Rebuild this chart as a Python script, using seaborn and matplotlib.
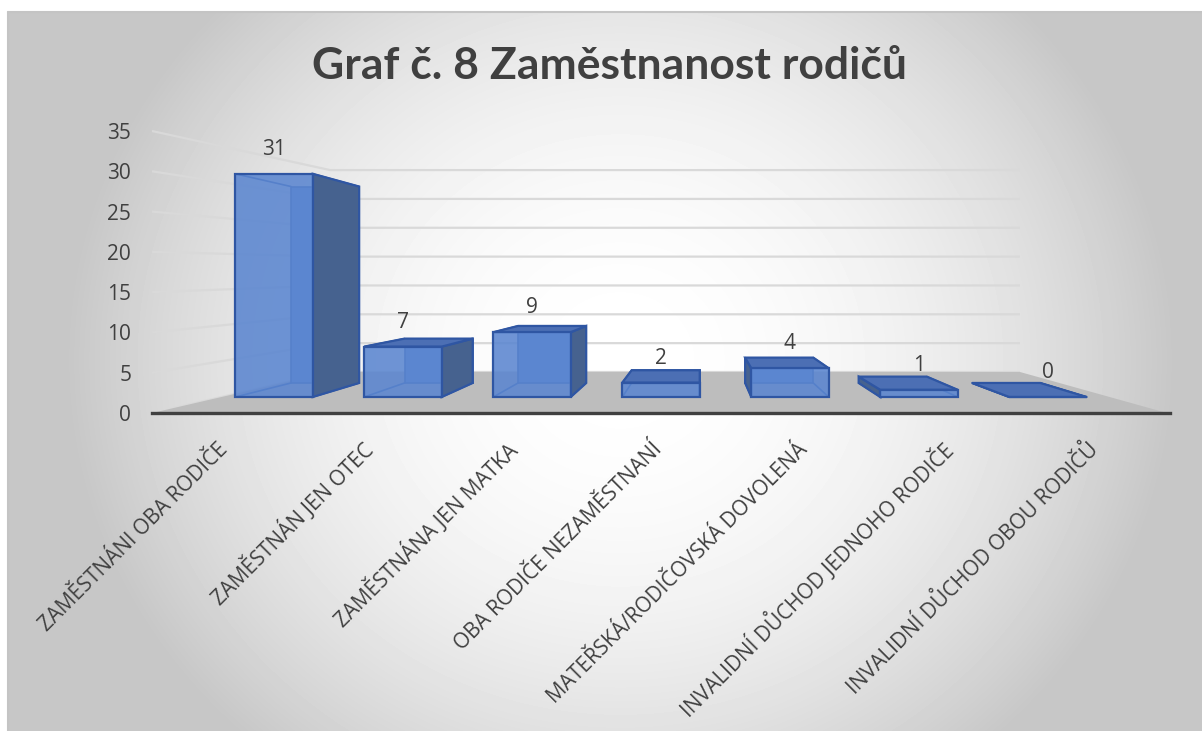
import numpy as np
import seaborn as sns
import matplotlib.pyplot as plt
from matplotlib.patches import Polygon
from matplotlib.colors import to_rgba

categories = ["ZAMĚSTNÁNI OBA RODIČE", "ZAMĚSTNÁN JEN OTEC", "ZAMĚSTNÁNA JEN MATKA",
              "OBA RODIČE NEZAMĚSTNANÍ", "MATEŘSKÁ/RODIČOVSKÁ DOVOLENÁ",
              "INVALIDNÍ DŮCHOD JEDNOHO RODIČE", "INVALIDNÍ DŮCHOD OBOU RODIČŮ"]
counts = [31, 7, 9, 2, 4, 1, 0]
y_ticks = [0, 5, 10, 15, 20, 25, 30, 35]
title = "Graf č. 8 Zaměstnanost rodičů"

W, H = 1202, 731
front_color = "#5B86D0"
side_color = "#46628F"
top_color = "#4C6FB4"
edge_color = "#2F56A3"
text_color = "#404040"

sns.set_style("white")
plt.rcParams["font.family"] = ["Open Sans", "DejaVu Sans"]

fig = plt.figure(figsize=(W / 100, H / 100), dpi=100)


def fx(px):
    return px / W


def fy(py):
    return 1 - py / H


# background: radial grey gradient inside a thin frame
bg = fig.add_axes([0, 0, 1, 1], zorder=-5)
xx, yy = np.meshgrid(np.arange(W), np.arange(H))
r2 = ((xx - 620) / 540.0) ** 2 + ((yy - 360) / 500.0) ** 2
grad = np.clip(1 - 0.21 * r2, 0.78, 1.0)
grad[:, :8] = 1.0
grad[:12, :] = 1.0
bg.imshow(grad, cmap="gray", vmin=0, vmax=1, aspect="auto", extent=(0, W, H, 0))
bg.plot([8, W], [12, 12], color="#C4C4C4", lw=1.5)
bg.plot([8, 8], [12, H], color="#C4C4C4", lw=1.5)
bg.set_xlim(0, W)
bg.set_ylim(H, 0)
bg.axis("off")

# axis box (pixel geometry of the plot area)
left, right, top, bottom = 152, 1170, 120, 413
rect = [fx(left), fy(bottom), fx(right) - fx(left), fy(top) - fy(bottom)]

# ticks / wall / floor axes
ax_t = fig.add_axes(rect, zorder=1)
ax_t.set_facecolor("none")
n = len(categories)
ax_t.set_xlim(-0.5, -0.5 + (right - left) / 145.0)
ax_t.set_ylim(0, (bottom - top) / 8.057)
ax_t.set_xticks(range(n))
ax_t.set_xticklabels(categories, rotation=45, ha="right", va="center",
                     rotation_mode="anchor", fontsize=15, color=text_color)
ax_t.set_yticks(y_ticks)
ax_t.set_yticklabels([str(t) for t in y_ticks], fontsize=15, color=text_color)
ax_t.tick_params(axis="x", length=0, pad=24)
ax_t.tick_params(axis="y", length=0, pad=15)
for s in ["top", "right", "left"]:
    ax_t.spines[s].set_visible(False)
ax_t.spines["bottom"].set_color(text_color)
ax_t.spines["bottom"].set_linewidth(2.4)

# back wall corners (in ax_t data units)
wall_x0, wall_x1 = 0.728, 5.486
wall_y0, wall_slope = 5.09, 0.716
for t in y_ticks:
    yb = wall_y0 + wall_slope * t
    ax_t.plot([-0.5, wall_x0, wall_x1], [t, yb, yb], color="#D9D9D9", lw=1.6,
              zorder=0.5, solid_capstyle="butt")
floor = Polygon([(-0.5, 0), (6.5, 0), (wall_x1, wall_y0), (wall_x0, wall_y0)],
                closed=True, facecolor="#BDBDBD", edgecolor="none", zorder=1)
ax_t.add_patch(floor)

# bars axes (front plane of the bars)
ax = fig.add_axes(rect, zorder=2)
ax.set_facecolor("none")
sns.barplot(x=categories, y=counts, ax=ax, width=0.6, color=front_color,
            saturation=1, edgecolor=edge_color, linewidth=1.6)
ax.set_xlim((left - 274) / 129.0, (right - 274) / 129.0)
ax.set_ylim(-(bottom - 397) / 7.2, (397 - top) / 7.2)
ax.axis("off")

# perspective depth of the boxes
vx, vy, k = (700 - 274) / 129.0, (397 - 280) / 7.2, 0.88


def persp(p):
    return (vx + k * (p[0] - vx), vy + k * (p[1] - vy))


for patch in list(ax.patches):
    x0 = patch.get_x()
    x1 = x0 + patch.get_width()
    y1 = patch.get_height()
    f = [(x0, 0), (x1, 0), (x1, y1), (x0, y1)]
    b = [persp(p) for p in f]
    ax.add_patch(Polygon(b, closed=True, facecolor=front_color,
                         edgecolor=edge_color, lw=1.2, zorder=2))
    for i in range(4):
        ax.plot([f[i][0], b[i][0]], [f[i][1], b[i][1]], color=edge_color,
                lw=1.2, zorder=2.1)
    if x1 < vx:
        side = [f[1], f[2], b[2], b[1]]
    else:
        side = [f[0], f[3], b[3], b[0]]
    ax.add_patch(Polygon(side, closed=True, facecolor=side_color,
                         edgecolor=edge_color, lw=1.6, zorder=2.2))
    if y1 < vy:
        ax.add_patch(Polygon([f[3], f[2], b[2], b[3]], closed=True,
                             facecolor=top_color, edgecolor=edge_color,
                             lw=1.6, zorder=2.4))
    patch.set_facecolor(to_rgba(front_color, 0.88))
    patch.set_zorder(3)

ax.bar_label(ax.containers[0], labels=[str(c) for c in counts], padding=10,
             fontsize=15, color=text_color)

fig.text(fx(610), fy(79), title, ha="center", va="baseline", fontsize=32,
         fontweight="bold", color=text_color, family=["Lato", "DejaVu Sans"])

fig.savefig("out.png", dpi=100)
